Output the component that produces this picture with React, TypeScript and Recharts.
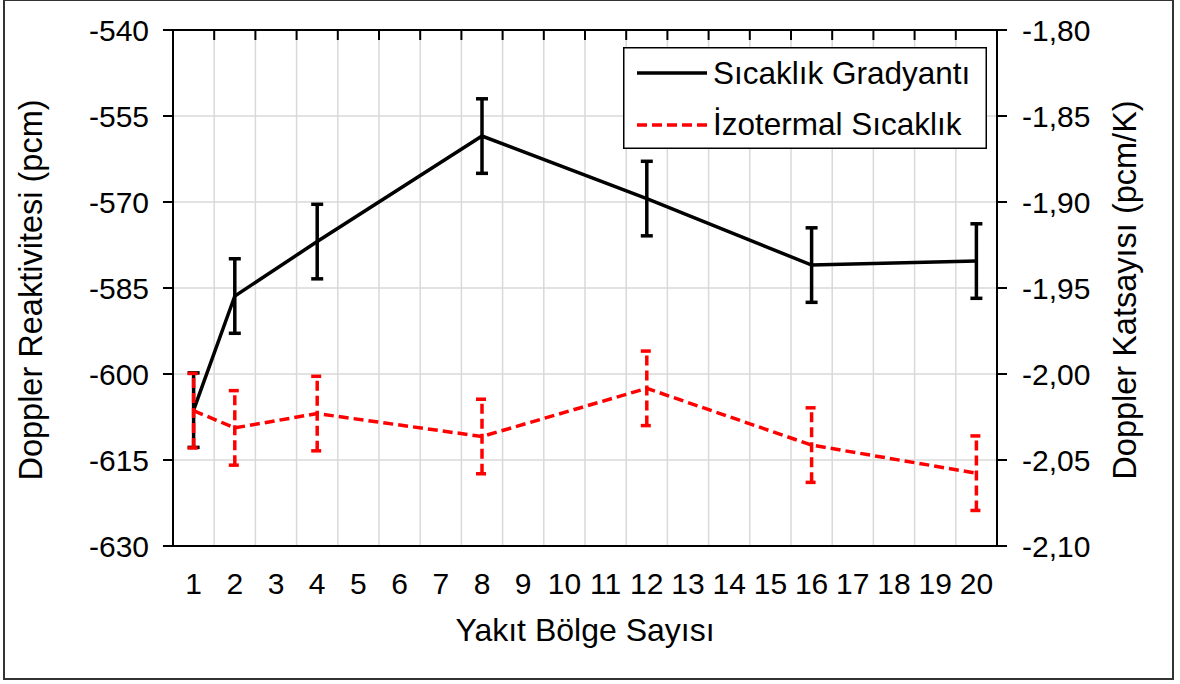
import React from 'react';
import {
  ComposedChart,
  Line,
  XAxis,
  YAxis,
  CartesianGrid,
  ErrorBar,
  Legend,
  Label,
} from 'recharts';

const zones = [1, 2, 4, 8, 12, 16, 20];
const gradientReactivity = [-606.3, -586.4, -576.9, -558.5, -569.4, -581.0, -580.3];
const gradientError = [6.5, 6.5, 6.5, 6.5, 6.5, 6.5, 6.5];
const isothermalReactivity = [-606.4, -609.4, -606.9, -610.9, -602.5, -612.4, -617.3];
const isothermalError = [6.5, 6.5, 6.5, 6.5, 6.5, 6.5, 6.5];

const xTicks = [1, 2, 3, 4, 5, 6, 7, 8, 9, 10, 11, 12, 13, 14, 15, 16, 17, 18, 19, 20];
const leftTicks = [-630, -615, -600, -585, -570, -555, -540];
const rightTicks = [-2.1, -2.05, -2.0, -1.95, -1.9, -1.85, -1.8];

const seriesNames = ['Sıcaklık Gradyantı', 'İzotermal Sıcaklık'];
const seriesColors = ['#000000', '#ff0000'];
const seriesDash = [undefined, '10 5'];

const FONT = 'Liberation Sans, Arial, sans-serif';

const data = zones.map((z, i) => ({
  zone: z,
  grad: gradientReactivity[i],
  gradErr: gradientError[i],
  iso: isothermalReactivity[i],
  isoErr: isothermalError[i],
}));

// category boundaries for the vertical grid / top axis ticks
const boundaryTicks = [...xTicks.map((t) => t - 0.5), xTicks[xTicks.length - 1] + 0.5];

function LegendBox() {
  return (
    <svg width={364} height={102} style={{ display: 'block' }}>
      <rect x={0.75} y={0.75} width={362.5} height={100.5} fill="#fff" stroke="#000" strokeWidth={1.5} />
      {seriesNames.map((name, i) => (
        <g key={name}>
          <line
            x1={14}
            x2={84}
            y1={26 + i * 52}
            y2={26 + i * 52}
            stroke={seriesColors[i]}
            strokeWidth={3.5}
            strokeDasharray={seriesDash[i]}
          />
          <text x={90} y={37 + i * 51} fontSize={31.5} fontFamily={FONT} fill="#000">
            {name}
          </text>
        </g>
      ))}
    </svg>
  );
}

export default function App() {
  const tickStyle = { fontSize: 30, fontFamily: FONT, fill: '#000' };
  return (
    <div style={{ position: 'absolute', left: 0, top: 0, width: 1180, height: 684, background: '#fff' }}>
      <div
        style={{
          position: 'absolute',
          left: 3,
          top: -1,
          width: 1171,
          height: 681,
          border: '2px solid #333',
          boxSizing: 'border-box',
        }}
      />
      <div style={{ position: 'absolute', left: 0, top: 0 }}>
        <ComposedChart
          width={1180}
          height={684}
          data={data}
          margin={{ top: 0, right: 0, bottom: 78, left: 0 }}
          style={{ fontFamily: FONT }}
        >
          <CartesianGrid
            xAxisId="top"
            yAxisId="left"
            stroke="#d9d9d9"
            strokeWidth={1.5}
          />
          <XAxis
            xAxisId="top"
            orientation="top"
            dataKey="zone"
            type="number"
            domain={[0.5, 20.5]}
            ticks={boundaryTicks}
            interval={0}
            height={30}
            tickFormatter={() => ''}
            tickSize={-10}
            tickLine={{ stroke: '#000', strokeWidth: 2 }}
            axisLine={{ stroke: '#000', strokeWidth: 2 }}
            allowDataOverflow
          />
          <XAxis
            xAxisId="bottom"
            dataKey="zone"
            type="number"
            domain={[0.5, 20.5]}
            ticks={xTicks}
            interval={0}
            height={60}
            tickLine={false}
            tickSize={0}
            tickMargin={27}
            tick={tickStyle}
            axisLine={{ stroke: '#000', strokeWidth: 2 }}
            allowDataOverflow
          >
            <Label
              content={() => (
                <text x={585} y={641} textAnchor="middle" fontSize={32} fontFamily={FONT} fill="#000">
                  Yakıt Bölge Sayısı
                </text>
              )}
            />
          </XAxis>
          <YAxis
            yAxisId="left"
            orientation="left"
            type="number"
            domain={[-630, -540]}
            ticks={leftTicks}
            interval={0}
            width={173}
            tickSize={10}
            tickMargin={14}
            tick={tickStyle}
            tickLine={{ stroke: '#000', strokeWidth: 2 }}
            axisLine={{ stroke: '#000', strokeWidth: 2 }}
            allowDataOverflow
          >
            <Label
              content={() => (
                <text
                  x={42}
                  y={290}
                  transform="rotate(-90 42 290)"
                  textAnchor="middle"
                  fontSize={32.5}
                  fontFamily={FONT}
                  fill="#000"
                >
                  Doppler Reaktivitesi (pcm)
                </text>
              )}
            />
          </YAxis>
          <YAxis
            yAxisId="right"
            orientation="right"
            type="number"
            domain={[-2.1, -1.8]}
            ticks={rightTicks}
            interval={0}
            width={183}
            tickSize={10}
            tickMargin={15}
            tick={tickStyle}
            tickFormatter={(v: number) => v.toFixed(2).replace('.', ',')}
            tickLine={{ stroke: '#000', strokeWidth: 2 }}
            axisLine={{ stroke: '#000', strokeWidth: 2 }}
            allowDataOverflow
          >
            <Label
              content={() => (
                <text
                  x={1136}
                  y={290}
                  transform="rotate(-90 1136 290)"
                  textAnchor="middle"
                  fontSize={32.5}
                  fontFamily={FONT}
                  fill="#000"
                >
                  Doppler Katsayısı (pcm/K)
                </text>
              )}
            />
          </YAxis>
          <Legend
            layout="horizontal"
            verticalAlign="middle"
            align="center"
            wrapperStyle={{ left: 623, top: 47, width: 364, height: 102 }}
            content={() => <LegendBox />}
          />
          <Line
            xAxisId="bottom"
            yAxisId="left"
            type="linear"
            dataKey="grad"
            name={seriesNames[0]}
            stroke={seriesColors[0]}
            strokeWidth={3.5}
            dot={false}
            activeDot={false}
            isAnimationActive={false}
          >
            <ErrorBar dataKey="gradErr" direction="y" width={6} stroke={seriesColors[0]} strokeWidth={3.5} isAnimationActive={false} />
          </Line>
          <Line
            xAxisId="bottom"
            yAxisId="left"
            type="linear"
            dataKey="iso"
            name={seriesNames[1]}
            stroke={seriesColors[1]}
            strokeWidth={3.5}
            strokeDasharray={seriesDash[1]}
            dot={false}
            activeDot={false}
            isAnimationActive={false}
          >
            <ErrorBar
              dataKey="isoErr"
              direction="y"
              width={6}
              stroke={seriesColors[1]}
              strokeWidth={3.5}
              strokeDasharray="10 5"
              isAnimationActive={false}
            />
          </Line>
        </ComposedChart>
      </div>
    </div>
  );
}
